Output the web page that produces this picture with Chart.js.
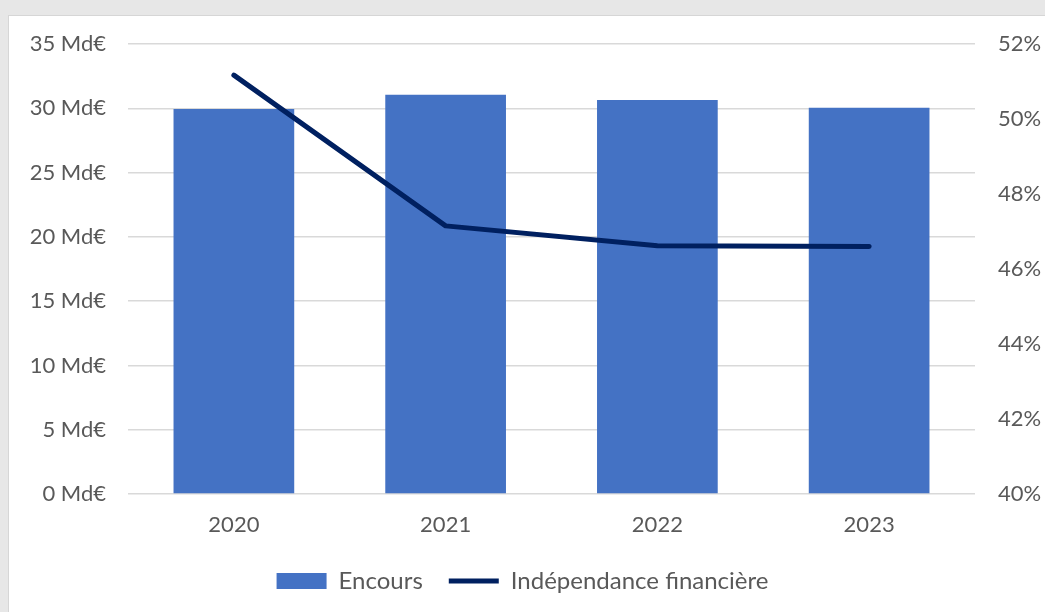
<!DOCTYPE html>
<html lang="fr">
<head>
<meta charset="utf-8">
<title>Encours et indépendance financière</title>
<script src="https://cdn.jsdelivr.net/npm/chart.js@4/dist/chart.umd.min.js"></script>
<style>
  html, body { margin: 0; padding: 0; width: 1045px; height: 612px; overflow: hidden; background: #e7e7e7; }
  .panel { position: absolute; left: 8px; top: 15px; width: 1060px; height: 620px; background: #fff; border: 1px solid #d6d6d6; }
  #chart { position: absolute; left: 0; top: 0; }
</style>
</head>
<body>
<div class="panel"></div>
<canvas id="chart" width="1045" height="612"></canvas>
<script>
// Années
const years = ['2020', '2021', '2022', '2023'];

// Encours (Md€)
const encours = [29.95, 31.05, 30.65, 30.05];

// Indépendance financière (%)
const independance = [51.17, 47.15, 46.62, 46.6];

// Graduations
const encoursTicks = [0, 5, 10, 15, 20, 25, 30, 35];
const pctTicks = [40, 42, 44, 46, 48, 50, 52];

const textColor = '#595959';
const gridColor = '#d9d9d9';
const fontFamily = 'Lato, "Open Sans", sans-serif';
const axisFont = { family: fontFamily, size: 22 };
const legendFont = { family: fontFamily, size: 24 };

const ctx = document.getElementById('chart');

new Chart(ctx, {
  data: {
    labels: years,
    datasets: [
      {
        type: 'bar',
        label: 'Encours',
        data: encours,
        yAxisID: 'y',
        backgroundColor: '#4472c4',
        borderWidth: 0,
        barPercentage: 0.57,
        categoryPercentage: 1,
        pointStyle: 'rect',
        order: 2
      },
      {
        type: 'line',
        label: 'Indépendance financière',
        data: independance,
        yAxisID: 'y1',
        borderColor: '#002060',
        backgroundColor: '#002060',
        borderWidth: 5,
        borderCapStyle: 'round',
        borderJoinStyle: 'round',
        pointRadius: 0,
        pointStyle: 'line',
        tension: 0,
        order: 1
      }
    ]
  },
  options: {
    responsive: false,
    animation: false,
    layout: { padding: { top: 44, left: 0, right: 0, bottom: 9 } },
    plugins: {
      tooltip: { enabled: false },
      legend: {
        position: 'bottom',
        labels: {
          color: textColor,
          font: legendFont,
          usePointStyle: true,
          pointStyleWidth: 50,
          boxHeight: 16,
          padding: 26,
          sort: (a, b) => a.datasetIndex - b.datasetIndex
        }
      }
    },
    scales: {
      x: {
        grid: { display: false },
        border: { display: false },
        ticks: { color: textColor, font: axisFont, padding: 10 },
        afterFit: scale => { scale.height = 49; }
      },
      y: {
        position: 'left',
        min: 0,
        max: 35,
        afterBuildTicks: scale => { scale.ticks = encoursTicks.map(v => ({ value: v })); },
        ticks: {
          color: textColor,
          font: axisFont,
          padding: 22,
          callback: v => v + ' Md€'
        },
        grid: { color: gridColor, lineWidth: 1.5, drawTicks: false },
        border: { display: false },
        afterFit: scale => { scale.width = 128; }
      },
      y1: {
        position: 'right',
        min: 40,
        max: 52,
        afterBuildTicks: scale => { scale.ticks = pctTicks.map(v => ({ value: v })); },
        ticks: {
          color: textColor,
          font: axisFont,
          padding: 23,
          callback: v => v + '%'
        },
        grid: { display: false, drawTicks: false },
        border: { display: false },
        afterFit: scale => { scale.width = 70; }
      }
    }
  }
});
</script>
</body>
</html>
